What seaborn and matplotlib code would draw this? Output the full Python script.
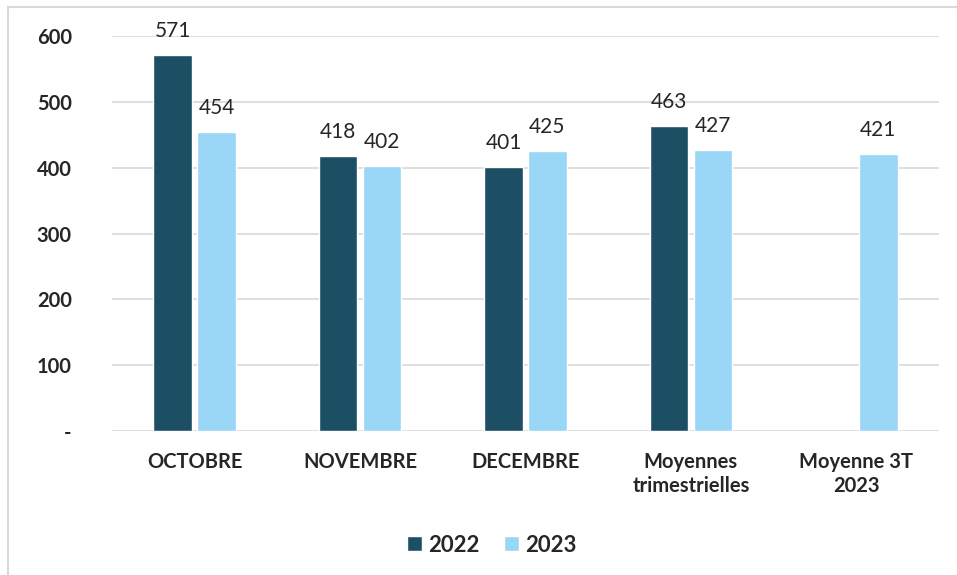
import numpy as np
import pandas as pd
import seaborn as sns
import matplotlib.pyplot as plt
from matplotlib.patches import Rectangle

categories = ["OCTOBRE", "NOVEMBRE", "DECEMBRE", "Moyennes\ntrimestrielles", "Moyenne 3T\n2023"]
values_2022 = [571, 418, 401, 463, np.nan]
values_2023 = [454, 402, 425, 427, 421]
years = ["2022", "2023"]
yticks = [0, 100, 200, 300, 400, 500, 600]
ytick_labels = ["-", "100", "200", "300", "400", "500", "600"]

df = pd.DataFrame({
    "cat": categories * 2,
    "year": [years[0]] * 5 + [years[1]] * 5,
    "value": values_2022 + values_2023,
})

sns.set_style("white")
plt.rcParams["font.family"] = ["Lato", "DejaVu Sans"]

fig = plt.figure(figsize=(9.57, 5.75), dpi=100)
ax = fig.add_axes([112 / 957, 1 - 431 / 575, (939 - 112) / 957, (431 - 36) / 575])

palette = {"2022": "#1C4F63", "2023": "#9AD7F6"}
sns.barplot(data=df, x="cat", y="value", hue="year", palette=palette,
            width=0.53, gap=0.12, ax=ax, saturation=1)

for cont in ax.containers:
    labels = ["" if np.isnan(v) else f"{v:.0f}" for v in cont.datavalues]
    ax.bar_label(cont, labels=labels, padding=10, fontsize=15)

ax.set_ylim(0, 600)
ax.set_yticks(yticks)
ax.set_yticklabels(ytick_labels, fontsize=14.5, fontweight="bold")
ax.tick_params(axis="y", pad=29, length=0)
ax.tick_params(axis="x", pad=15, length=0)
for lab in ax.get_xticklabels():
    lab.set_fontsize(14.5)
    lab.set_fontweight("bold")
    lab.set_linespacing(1.25)
ax.set_xlabel("")
ax.set_ylabel("")
ax.yaxis.grid(True, color="#D9D9D9", linewidth=1.2)
ax.set_axisbelow(True)
for s in ax.spines.values():
    s.set_visible(False)

leg = ax.legend(loc="center", bbox_to_anchor=(492 / 957, (575 - 545) / 575), bbox_transform=fig.transFigure,
                ncol=2, frameon=False, handlelength=0.65, handleheight=0.65,
                columnspacing=1.1, handletextpad=0.3, prop={"weight": "bold", "size": 16})

fig.patches.append(Rectangle((8 / 957, -0.1), 1.2, 1 - 7 / 575 + 0.1, transform=fig.transFigure,
                             fill=False, edgecolor="#D9D9D9", linewidth=1.5, zorder=-1))

fig.savefig("out.png", dpi=100)
